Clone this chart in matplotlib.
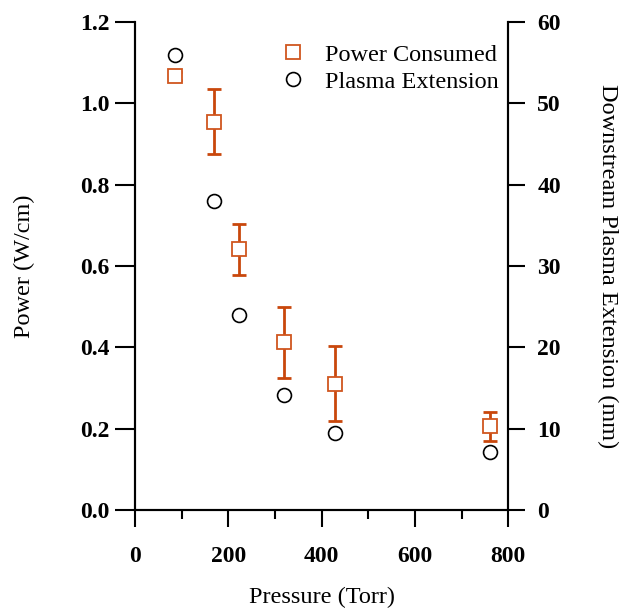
import numpy as np
import matplotlib.pyplot as plt
from matplotlib.ticker import MultipleLocator, FormatStrFormatter

plt.rcParams['font.family'] = ['Liberation Serif', 'DejaVu Serif']

pressure = [85, 170, 222, 320, 428, 760]
power = [1.067, 0.955, 0.641, 0.413, 0.311, 0.206]
power_err = [0.01, 0.08, 0.062, 0.087, 0.093, 0.035]
extension = [56.0, 38.0, 24.0, 14.2, 9.5, 7.2]

fig = plt.figure(figsize=(6.22, 6.11), dpi=100)
ax = fig.add_axes([0.217, 0.165, 0.6, 0.799])
ax2 = ax.twinx()

orange = '#d0561f'
ax.errorbar(pressure, power, yerr=power_err, fmt='none', ecolor='#c9470c',
            elinewidth=2, capsize=5, capthick=2, zorder=2)
h1, = ax.plot(pressure, power, 's', mfc='white', mec=orange, mew=1.3, ms=10,
              label='Power Consumed', zorder=3)
h2, = ax2.plot(pressure, extension, 'o', mfc='none', mec='black', mew=1.2, ms=10,
               label='Plasma Extension')

ax.set_xlim(0, 800)
ax.set_ylim(0, 1.2)
ax2.set_ylim(0, 60)
ax.xaxis.set_major_locator(MultipleLocator(200))
ax.xaxis.set_minor_locator(MultipleLocator(100))
ax.yaxis.set_major_locator(MultipleLocator(0.2))
ax.yaxis.set_major_formatter(FormatStrFormatter('%.1f'))
ax2.yaxis.set_major_locator(MultipleLocator(10))

for a in (ax, ax2):
    a.spines['top'].set_visible(False)
    for s in a.spines.values():
        s.set_linewidth(1.5)
    a.tick_params(which='major', direction='out', width=1.5, labelsize=17)
    a.tick_params(which='minor', direction='out', length=6.5, width=1.5)
ax.tick_params(axis='x', which='major', length=12.5, pad=13)
ax.tick_params(axis='y', which='major', length=14.5, pad=4)
ax2.tick_params(axis='y', which='major', length=12.5, pad=8.5)
for lab in ax.get_xticklabels() + ax.get_yticklabels() + ax2.get_yticklabels():
    lab.set_fontweight('bold')

ax.set_xlabel('Pressure (Torr)', fontsize=17.5, va='top')
ax.xaxis.set_label_coords(0.5, -0.158)
ax.set_ylabel('Power (W/cm)', fontsize=17.5, va='bottom')
ax.yaxis.set_label_coords(-0.268, 0.5)
ax2.set_ylabel('Downstream Plasma Extension (mm)', fontsize=17.5, rotation=270,
               va='bottom')
ax2.yaxis.set_label_coords(1.238, 0.5)

ax.legend([h1, h2], ['Power Consumed', 'Plasma Extension'], loc='upper right',
          bbox_to_anchor=(1.02, 0.99), frameon=False, fontsize=17.5,
          handlelength=1.6, handletextpad=0.5, labelspacing=0.2, borderaxespad=0.3)
ax2.set_zorder(ax.get_zorder() - 1)
ax.patch.set_visible(False)

fig.savefig('out.png', dpi=100)
